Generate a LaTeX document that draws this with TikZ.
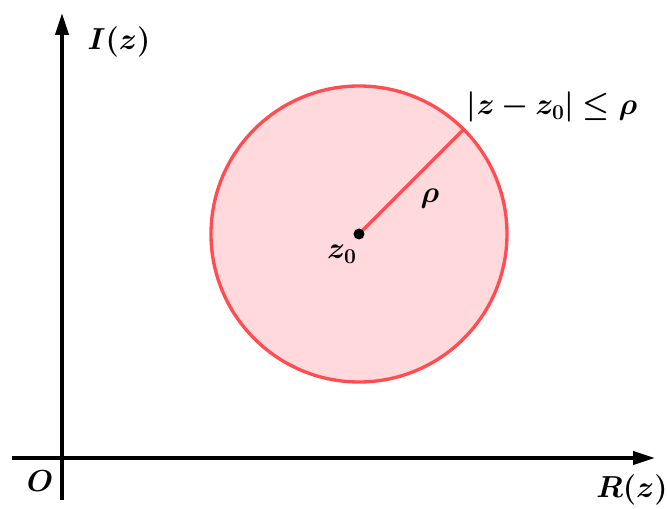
\documentclass[tikz,border=0pt]{standalone}
\usepackage{bm}
\usetikzlibrary{arrows.meta}
\definecolor{ring}{HTML}{FF4D52}
\definecolor{disc}{HTML}{FFD9DB}

\begin{document}
\begin{tikzpicture}[
  x=0.02cm, y=-0.02cm,
  axis/.style={line width=2.2pt, draw=black, -{Triangle[length=4.4mm,width=2.6mm]}},
  label/.style={font=\fontsize{16.5}{19}\selectfont, inner sep=1pt},
  radius line/.style={line width=1.9pt, draw=ring}
]
\useasboundingbox (0,0) rectangle (667,509);

% axes
\coordinate (xstart) at (12,458);
\coordinate (xend) at (655,458);
\coordinate (ystart) at (62,500);
\coordinate (yend) at (62,13);
\draw[axis] (xstart) -- (xend);
\draw[axis] (ystart) -- (yend);

% disc
\coordinate (center) at (359,234);
\draw[line width=1.9pt, draw=ring, fill=disc] (center) circle (148);
\path (center) ++(104.6,-104.6) coordinate (rim);
\draw[radius line] (center) -- (rim);
\fill (center) circle (5.5);

% labels
\node[label] (imag) at (119,42) {$\bm{I(z)}$};
\node[label] (real) at (632,490) {$\bm{R(z)}$};
\node[label] (origin) at (40,481) {$\bm{O}$};
\node[label] (zlabel) at (342,254) {$\bm{z_0}$};
\node[label] (rho) at (430,199) {$\bm{\rho}$};
\node[label] (region) at (552,107) {$\bm{|z-z_0|\le\rho}$};
\end{tikzpicture}
\end{document}
